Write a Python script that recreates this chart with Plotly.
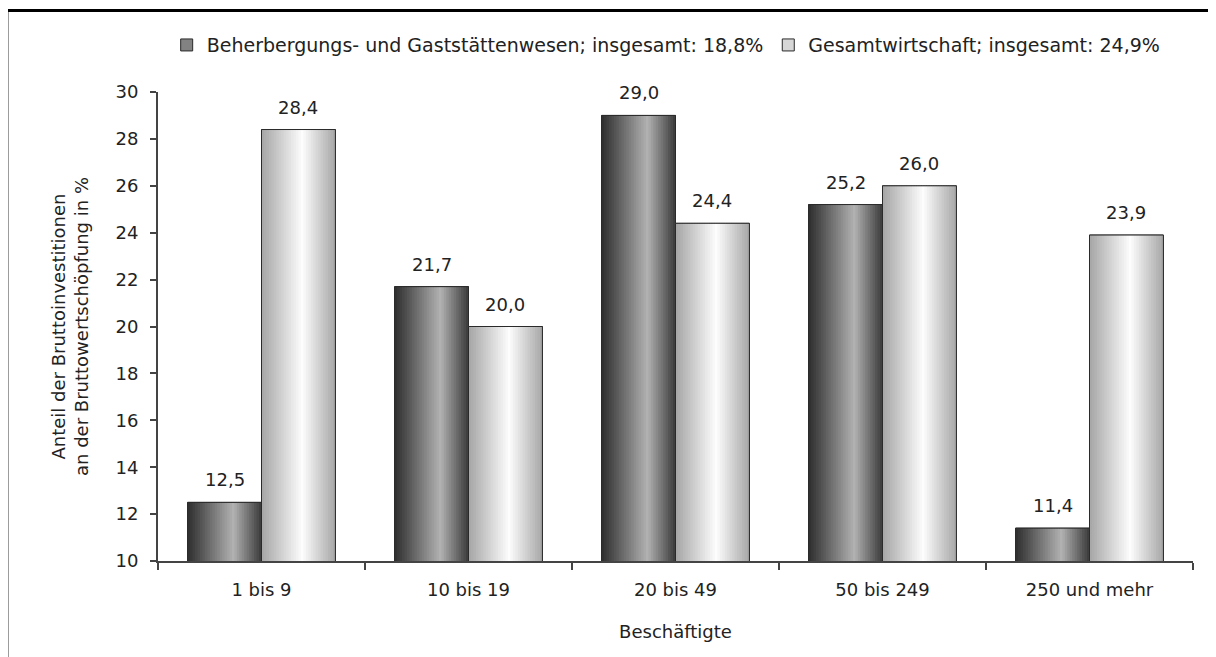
import plotly.graph_objects as go

# data
categories = ["1 bis 9", "10 bis 19", "20 bis 49", "50 bis 249", "250 und mehr"]
gastgewerbe = [12.5, 21.7, 29.0, 25.2, 11.4]
gesamtwirtschaft = [28.4, 20.0, 24.4, 26.0, 23.9]
series_names = [
    "Beherbergungs- und Gaststättenwesen; insgesamt: 18,8%",
    "Gesamtwirtschaft; insgesamt: 24,9%",
]
y_ticks = [10, 12, 14, 16, 18, 20, 22, 24, 26, 28, 30]

FONT = "DejaVu Sans"
FS = 18
TXT = "#222222"
BAR_W = 0.357   # width of one bar in category units
N_SLICES = 30   # vertical slices used to fake the cylinder shading


def gray(v):
    v = max(0, min(255, int(round(v))))
    return f"rgb({v},{v},{v})"


def shade(t, left, peak, right, peak_pos):
    # linear ramp up to the highlight, then down again
    if t <= peak_pos:
        return left + (peak - left) * (t / peak_pos)
    return peak + (right - peak) * ((t - peak_pos) / (1 - peak_pos))


styles = [
    dict(left=45, peak=178, right=58, peak_pos=0.62, legend=130),
    dict(left=165, peak=253, right=166, peak_pos=0.55, legend=215),
]

fig = go.Figure()

for s, (name, vals) in enumerate(zip(series_names, [gastgewerbe, gesamtwirtschaft])):
    st = styles[s]
    base_off = -BAR_W + s * BAR_W
    # legend / background trace
    fig.add_trace(go.Bar(
        x=categories, y=vals, name=name, width=BAR_W, offset=base_off,
        marker=dict(color=gray(st["legend"]), line=dict(color="#2a2a2a", width=1)),
        showlegend=True, hoverinfo="skip",
    ))
    # shading slices
    sw = BAR_W / N_SLICES
    for k in range(N_SLICES):
        t = (k + 0.5) / N_SLICES
        c = shade(t, st["left"], st["peak"], st["right"], st["peak_pos"])
        w = sw * 1.6 if k < N_SLICES - 1 else sw
        fig.add_trace(go.Bar(
            x=categories, y=vals, width=w, offset=base_off + k * sw,
            marker=dict(color=gray(c), line=dict(width=0)),
            showlegend=False, hoverinfo="skip",
        ))
    # outline
    fig.add_trace(go.Bar(
        x=categories, y=vals, width=BAR_W, offset=base_off,
        marker=dict(color="rgba(0,0,0,0)", line=dict(color="#2a2a2a", width=1)),
        showlegend=False, hovertemplate="%{x}: %{y}<extra></extra>",
    ))
    # value labels above the bars
    for i, v in enumerate(vals):
        fig.add_annotation(
            x=i + base_off + BAR_W / 2, y=v, xref="x", yref="y",
            text=f"{v:.1f}".replace(".", ","), showarrow=False,
            yanchor="bottom", yshift=10,
            font=dict(family=FONT, size=FS, color=TXT),
        )

# frame around the whole chart
fig.add_shape(
    type="rect", xref="paper", yref="paper",
    x0=-0.146, x1=1.2, y0=-0.4, y1=1.174,
    line=dict(color="black", width=3), fillcolor="rgba(0,0,0,0)",
)

fig.update_layout(
    width=1216, height=657,
    margin=dict(l=150, r=31, t=84, b=104),
    paper_bgcolor="white", plot_bgcolor="white",
    barmode="overlay",
    separators=",.",
    font=dict(family=FONT, size=FS, color=TXT),
    showlegend=True,
    legend=dict(
        orientation="h", x=0.491, xanchor="center", y=1.10, yanchor="middle",
        font=dict(family=FONT, size=19, color=TXT),
        traceorder="normal",
    ),
    xaxis=dict(
        type="category", categoryorder="array", categoryarray=categories,
        showline=True, linecolor="#444444", linewidth=2,
        ticks="outside", tickson="boundaries", ticklen=7, tickwidth=2, tickcolor="#444444",
        ticklabelstandoff=11,
        showgrid=False, zeroline=False,
        tickfont=dict(family=FONT, size=FS, color=TXT),
        title=dict(text="Beschäftigte", font=dict(family=FONT, size=FS, color=TXT), standoff=27),
    ),
    yaxis=dict(
        range=[10, 30], tickvals=y_ticks,
        showline=True, linecolor="#444444", linewidth=2,
        ticks="outside", ticklen=6, tickwidth=2, tickcolor="#444444",
        ticklabelstandoff=8,
        showgrid=False, zeroline=False,
        tickfont=dict(family=FONT, size=FS, color=TXT),
        title=dict(
            text="Anteil der Bruttoinvestitionen<br>an der Bruttowertschöpfung in %",
            font=dict(family=FONT, size=FS, color=TXT), standoff=22,
        ),
    ),
)

fig.write_html("out.html")
